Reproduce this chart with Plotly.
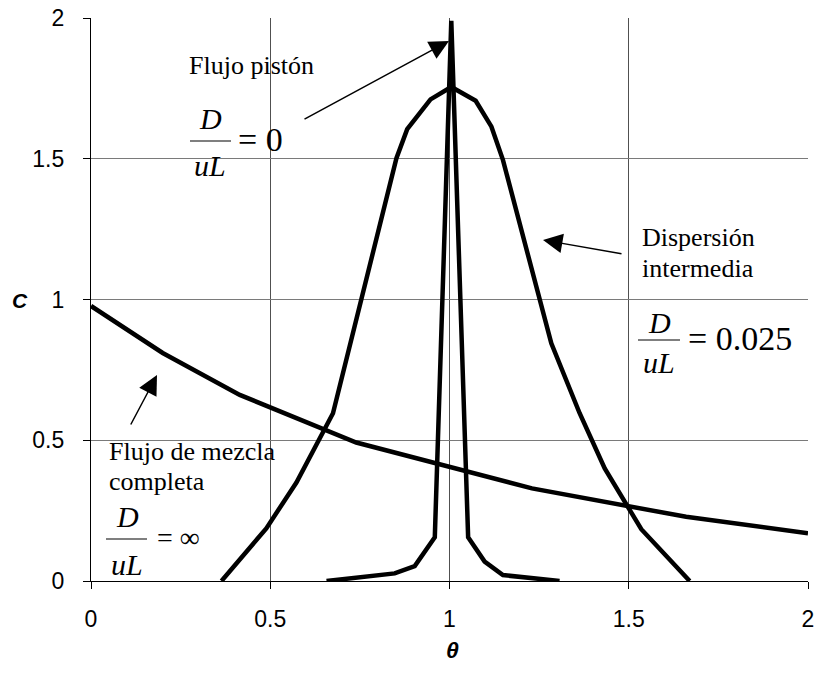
import plotly.graph_objects as go

# ---------------- data ----------------
theta_mix = [0.0, 0.2, 0.415, 0.74, 1.23, 1.66, 2.0]
c_mix = [0.977, 0.81, 0.661, 0.492, 0.329, 0.228, 0.17]

theta_disp = [0.364, 0.489, 0.573, 0.675, 0.852, 0.882, 0.947, 1.005, 1.073,
              1.117, 1.149, 1.284, 1.363, 1.433, 1.535, 1.670]
c_disp = [0.0, 0.187, 0.35, 0.596, 1.502, 1.605, 1.711, 1.755, 1.706,
          1.614, 1.496, 0.844, 0.596, 0.40, 0.184, 0.0]

theta_plug = [0.657, 0.847, 0.903, 0.959, 1.005, 1.052, 1.098, 1.149, 1.307]
c_plug = [0.0, 0.027, 0.053, 0.155, 1.99, 0.155, 0.069, 0.021, 0.0]

x_ticks = [0, 0.5, 1, 1.5, 2]
y_ticks = [0, 0.5, 1, 1.5, 2]
x_ticktext = ["0", "0.5", "1", "1.5", "2"]
y_ticktext = ["0", "0.5", "1", "1.5", "2"]

# ---------------- layout geometry ----------------
W, H = 814, 673
ML, MR, MT, MB = 91, 6, 18, 92
PW, PH = W - ML - MR, H - MT - MB


def px_(px):
    return (px - ML) / PW


def py_(py):
    return (H - MB - py) / PH


SERIF = "Liberation Serif"
SANS = "Liberation Sans"

fig = go.Figure()
line_style = dict(color="black", width=4.5)
fig.add_trace(go.Scatter(x=theta_mix, y=c_mix, mode="lines", line=line_style,
                         name="Flujo de mezcla completa"))
fig.add_trace(go.Scatter(x=theta_disp, y=c_disp, mode="lines", line=line_style,
                         name="Dispersión intermedia"))
fig.add_trace(go.Scatter(x=theta_plug, y=c_plug, mode="lines", line=line_style,
                         name="Flujo pistón"))

annotations = []


def label(text, px, py, size=26, xanchor="left", italic=False, family=SERIF):
    t = f"<i>{text}</i>" if italic else text
    annotations.append(dict(x=px_(px), y=py_(py), xref="paper", yref="paper", text=t,
                            showarrow=False, xanchor=xanchor, yanchor="middle",
                            font=dict(family=family, size=size, color="black")))


def arrow(tail_px, tail_py, tip_px, tip_py):
    annotations.append(dict(x=px_(tip_px), y=py_(tip_py), xref="paper", yref="paper",
                            ax=tail_px - tip_px, ay=tail_py - tip_py, text="",
                            showarrow=True, arrowhead=2, arrowsize=2.6,
                            arrowwidth=1.5, arrowcolor="black", standoff=0))


shapes = []


def fraction(cx, ypD, ybar, ypU, x0, x1, eq_text, eq_px, eq_py, eq_size):
    label("D", cx, ypD, size=30, xanchor="center", italic=True)
    label("uL", cx, ypU, size=30, xanchor="center", italic=True)
    shapes.append(dict(type="line", xref="paper", yref="paper", x0=px_(x0), x1=px_(x1),
                       y0=py_(ybar), y1=py_(ybar), line=dict(color="black", width=1.2)))
    label(eq_text, eq_px, eq_py, size=eq_size)


# Flujo pistón
label("Flujo pistón", 187, 65)
fraction(210, 118, 141, 165, 190, 231, "= 0", 236, 139, 34)
arrow(303, 120, 449, 41)

# Dispersión intermedia
label("Dispersión", 640, 238)
label("intermedia", 640, 268)
fraction(659, 322, 340, 362, 638, 680, "= 0.025", 686, 338, 34)
arrow(623, 254, 543, 240)

# Flujo de mezcla completa
label("Flujo de mezcla", 107, 451)
label("completa", 107, 481)
fraction(127, 516, 539, 564, 106, 147, "= ∞", 155, 537, 28)
arrow(130, 426, 157, 375)

# axis titles
label("<b><i>θ</i></b>", 452, 650, size=23, xanchor="center", family=SANS)
label("<b><i>C</i></b>", 20, 300, size=21, xanchor="center", family=SANS)

fig.update_layout(
    width=W, height=H,
    margin=dict(l=ML, r=MR, t=MT, b=MB, pad=0, autoexpand=False),
    paper_bgcolor="white", plot_bgcolor="white",
    showlegend=False,
    annotations=annotations,
    shapes=shapes,
    font=dict(family=SANS, size=23, color="black"),
)
fig.update_xaxes(range=[0, 2], tickvals=x_ticks, ticktext=x_ticktext,
                 showgrid=True, gridcolor="#505050", gridwidth=1,
                 showline=True, linecolor="black", linewidth=1.2,
                 ticks="outside", ticklen=7, tickcolor="black", automargin=False,
                 ticklabelstandoff=10, ticklabeloverflow="allow", zeroline=False,
                 tickfont=dict(family=SANS, size=23, color="black"))
fig.update_yaxes(range=[0, 2], tickvals=y_ticks, ticktext=y_ticktext,
                 showgrid=True, gridcolor="#7a7a7a", gridwidth=1,
                 showline=True, linecolor="black", linewidth=1.2,
                 ticks="outside", ticklen=7, tickcolor="black", automargin=False,
                 ticklabelstandoff=14, ticklabeloverflow="allow", zeroline=False,
                 tickfont=dict(family=SANS, size=23, color="black"))

fig.write_html("out.html")
